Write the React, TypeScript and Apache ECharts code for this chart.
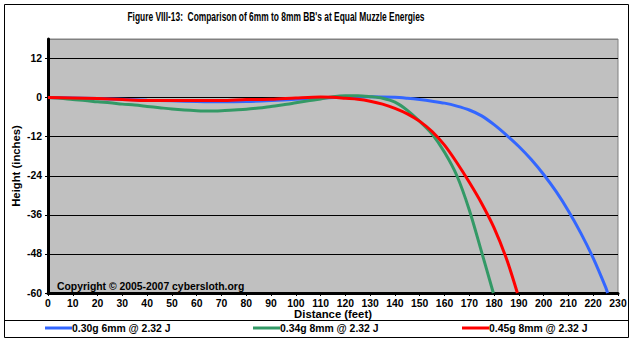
import React, { useEffect, useRef } from "react";
import * as echarts from "echarts";

const titleText = "Figure VIII-13:  Comparison of 6mm to 8mm BB's at Equal Muzzle Energies";
const copyrightText = "Copyright \u00A9 2005-2007 cybersloth.org";
const xAxisName = "Distance (feet)";
const yAxisName = "Height (inches)";
const seriesNames = ["0.30g 6mm @ 2.32 J", "0.34g 8mm @ 2.32 J", "0.45g 8mm @ 2.32 J"];
const seriesColors = ["#3366FF", "#339966", "#FF0000"];

const blueX = [0, 10, 20, 30, 40, 50, 60, 70, 80, 90, 100, 110, 120, 130, 140, 145, 150, 155, 160, 165, 170, 175, 180, 185, 190, 195, 200, 205, 210, 215, 220, 225, 225.8];
const blueY = [0, -0.1, -0.3, -0.5, -0.8, -1.0, -1.2, -1.3, -1.2, -0.9, -0.5, -0.1, 0.2, 0.3, 0.1, -0.2, -0.6, -1.1, -1.7, -2.6, -3.8, -5.6, -8.3, -11.5, -15.0, -19.0, -23.6, -28.8, -34.8, -41.6, -49.3, -58.2, -60];

const greenX = [0, 5, 10, 15, 20, 25, 30, 35, 40, 45, 50, 55, 60, 65, 70, 75, 80, 85, 90, 95, 100, 105, 110, 115, 120, 125, 130, 135, 140, 145, 150, 155, 160, 165, 170, 175, 179.7];
const greenY = [0, -0.2, -0.6, -0.9, -1.3, -1.6, -2.0, -2.3, -2.7, -3.1, -3.5, -3.8, -4.0, -4.1, -4.0, -3.8, -3.6, -3.2, -2.7, -2.2, -1.6, -1.0, -0.4, 0.3, 0.6, 0.6, 0.3, -0.2, -1.4, -3.9, -7.3, -11.2, -16.8, -24, -34.5, -47.5, -60];

const redX = [0, 10, 20, 30, 40, 50, 60, 70, 80, 90, 100, 110, 115, 120, 125, 130, 135, 140, 145, 150, 155, 160, 165, 170, 175, 180, 185, 189.4];
const redY = [0, -0.1, -0.3, -0.6, -0.9, -0.9, -0.9, -0.9, -0.6, -0.5, -0.1, 0.2, 0.1, -0.2, -0.5, -1.1, -2.0, -3.3, -5.0, -7.3, -10.4, -14.6, -20.0, -26.0, -32.5, -40.0, -49.5, -60];

const xMin = 0, xMax = 230, xStep = 10;
const yMin = -60, yMax = 18, yStep = 12;

const FONT = "'Liberation Sans', Arial, sans-serif";

function pairs(xs: number[], ys: number[]) {
  return xs.map((x, i) => [x, ys[i]]);
}

export default function App() {
  const ref = useRef<HTMLDivElement>(null);
  useEffect(() => {
    if (!ref.current) return;
    const chart = echarts.init(ref.current, null, { renderer: "svg" });
    const dataSets = [pairs(blueX, blueY), pairs(greenX, greenY), pairs(redX, redY)];
    const legendLefts = [45, 253, 462];
    const nSplit = 8;
    const splitColors = Array.from({ length: nSplit }, (_, i) => (i === nSplit - 1 ? "#808080" : "#000000"));
    chart.setOption({
      animation: false,
      backgroundColor: "#FFFFFF",
      textStyle: { fontFamily: FONT },
      grid: {
        left: 48, right: 16, top: 39, bottom: 49,
        show: true, backgroundColor: "#C0C0C0", borderColor: "#808080", borderWidth: 1,
      },
      legend: seriesNames.map((n, i) => ({
        data: [n],
        left: legendLefts[i],
        top: 323,
        icon: "rect",
        itemWidth: 27,
        itemHeight: 3,
        padding: 0,
        textStyle: { fontFamily: FONT, fontSize: 10.4, fontWeight: "bold", color: "#000", padding: [0, 0, 0, -5] },
      })),
      xAxis: {
        type: "value", min: xMin, max: xMax, interval: xStep,
        name: xAxisName, nameLocation: "middle", nameGap: 15, nameMoveOverlap: false,
        nameTextStyle: { fontFamily: FONT, fontSize: 11.3, fontWeight: "bold", color: "#000" },
        axisLine: { show: true, onZero: false, lineStyle: { color: "#000", width: 3 } },
        axisTick: { show: true, inside: false, length: 3, lineStyle: { color: "#000", width: 1 } },
        axisLabel: { margin: 5, fontFamily: FONT, fontSize: 10.4, fontWeight: "bold", color: "#000" },
        splitLine: { show: false },
      },
      yAxis: {
        type: "value", min: yMin, max: yMax, interval: yStep,
        name: yAxisName, nameLocation: "middle", nameGap: 27, nameRotate: 90, nameMoveOverlap: false,
        nameTextStyle: { fontFamily: FONT, fontSize: 11.3, fontWeight: "bold", color: "#000" },
        axisLine: { show: true, onZero: false, lineStyle: { color: "#000", width: 3 } },
        axisTick: { show: true, inside: false, length: 3, lineStyle: { color: "#000", width: 1 } },
        axisLabel: { margin: 6, showMaxLabel: false, fontFamily: FONT, fontSize: 10.4, fontWeight: "bold", color: "#000" },
        splitLine: { show: true, lineStyle: { color: splitColors, width: 1 } },
      },
      series: seriesNames.map((n, i) => ({
        name: n,
        type: "line",
        data: dataSets[i],
        showSymbol: false,
        symbol: "none",
        smooth: 0.3,
        color: seriesColors[i],
        lineStyle: { color: seriesColors[i], width: 3 },
      })),
      graphic: [
        {
          type: "rect", silent: true, z: -1,
          shape: { x: 4.5, y: 4.5, width: 624, height: 333 },
          style: { fill: "none", stroke: "#000", lineWidth: 1 },
        },
        {
          type: "line", silent: true,
          shape: { x1: 4.5, y1: 320.5, x2: 628.5, y2: 320.5 },
          style: { stroke: "#000", lineWidth: 1 },
        },
        {
          type: "text", x: 276, y: 16.5, scaleX: 0.70, silent: true,
          style: { text: titleText, font: `bold 12px ${FONT}`, fill: "#000", textAlign: "center", textVerticalAlign: "middle" },
        },
        {
          type: "text", x: 57, y: 286.5, silent: true, z: 100,
          style: { text: copyrightText, font: `bold 10.4px ${FONT}`, fill: "#000", textAlign: "left", textVerticalAlign: "middle" },
        },
      ],
    });
    return () => chart.dispose();
  }, []);
  return <div ref={ref} style={{ position: "fixed", left: 0, top: 0, width: 634, height: 342 }} />;
}
